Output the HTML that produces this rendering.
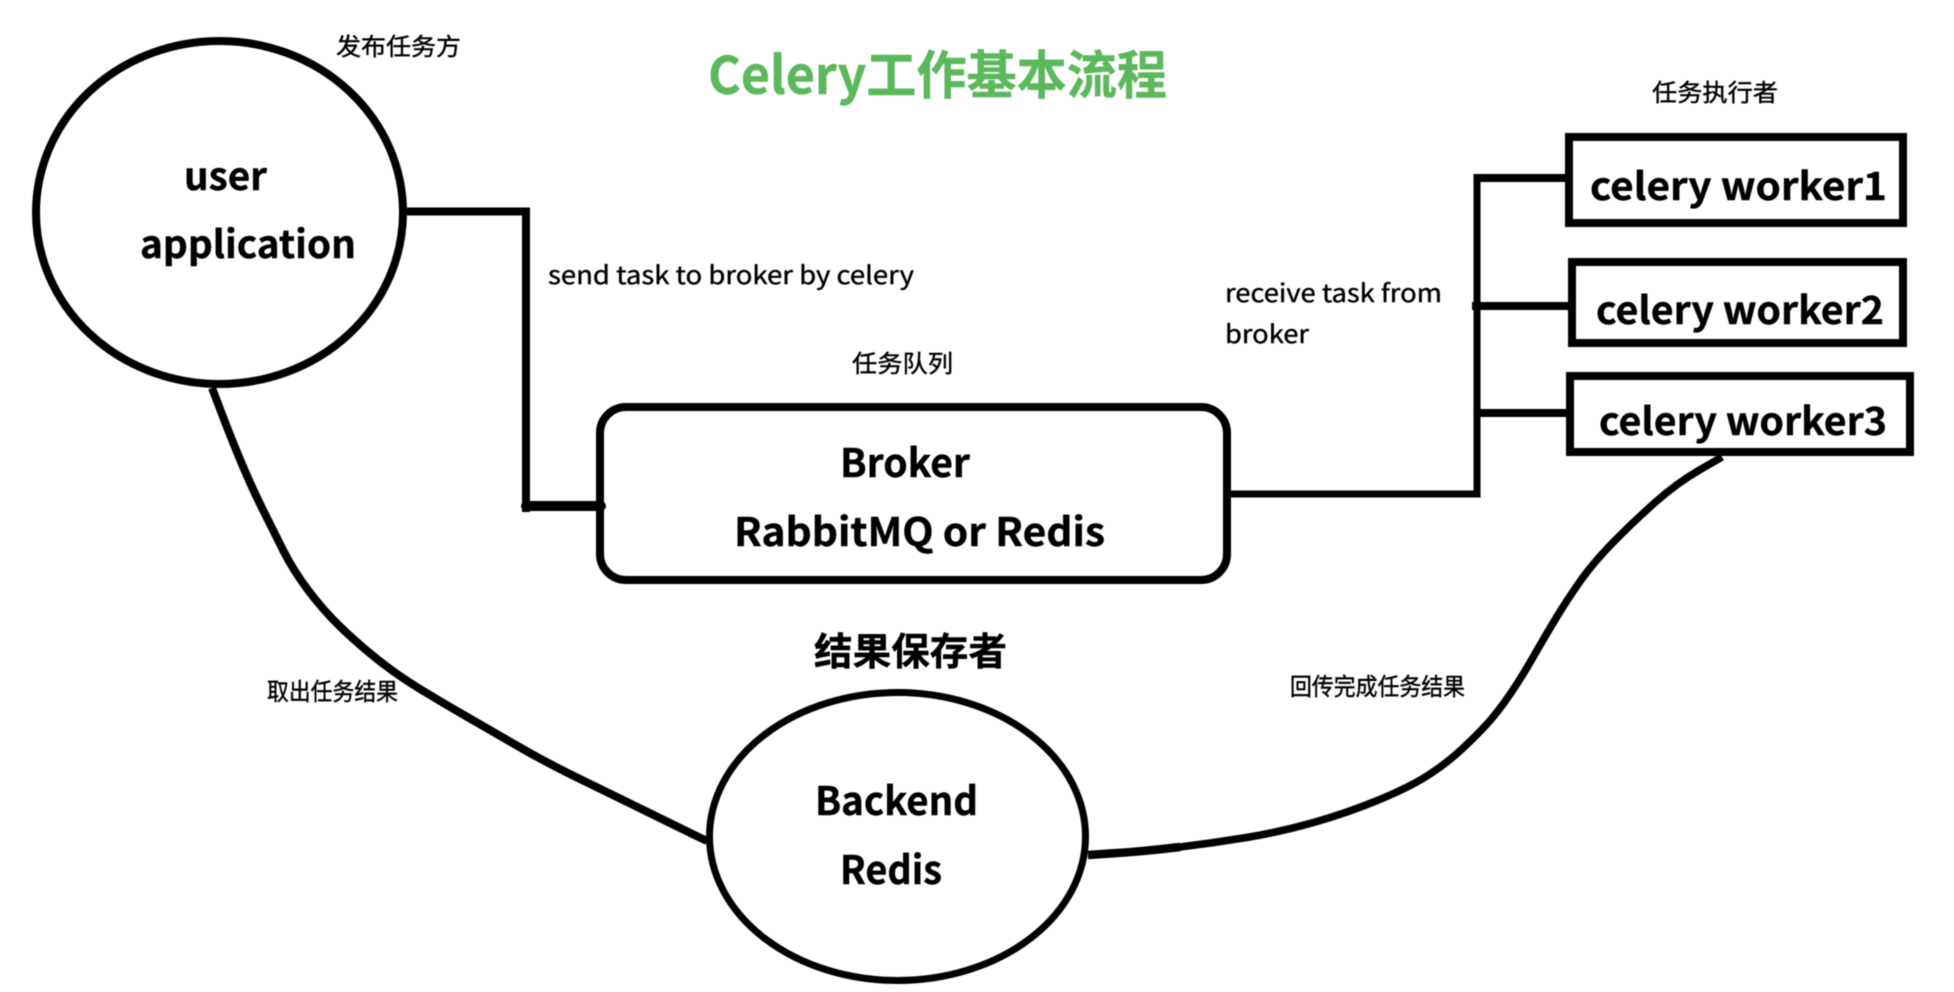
<!DOCTYPE html>
<html lang="zh-CN">
<head>
<meta charset="utf-8">
<title>Celery工作基本流程</title>
<style>
html,body{margin:0;padding:0;background:#fff;width:1954px;height:992px;overflow:hidden}
svg{display:block;filter:blur(.4px)}
text{font-family:"Noto Sans CJK SC","Liberation Sans",sans-serif;fill:#000}
.b{font-weight:700;stroke:#000;stroke-width:.4px}
.s{font-weight:400;stroke:#000;stroke-width:.4px}
</style>
</head>
<body>
<svg width="1954" height="992" viewBox="0 0 1954 992" xmlns="http://www.w3.org/2000/svg">
<rect width="1954" height="992" fill="#fff"/>
<g fill="none" stroke="#000" stroke-width="8">
  <ellipse cx="219.5" cy="212.5" rx="183.5" ry="171.5"/>
  <rect x="600" y="407" width="627" height="173" rx="26" ry="26"/>
  <ellipse cx="897.5" cy="836.5" rx="188" ry="144" stroke-width="7"/>
  <rect x="1569" y="137" width="334" height="86"/>
  <rect x="1572" y="262" width="331" height="81"/>
  <rect x="1570" y="376" width="340" height="76"/>
  <path d="M407 211.5H526V512"/>
  <path d="M526 506H601" stroke-width="10" stroke-linecap="round"/>
  <path d="M1231 494H1477V174" stroke-width="7"/>
  <path d="M1474 178H1565M1472 306H1568M1477 413H1566"/>
  <path stroke-width="8" d="M212 388L222.5 415.5Q233 443 243 466.5Q253 490 263 510Q273 530 283 550Q293 570 308 590Q323 610 340 626.5Q357 643 377 659Q397 675 420 689Q443 703 466.5 716.5Q490 730 518.5 746.5Q547 763 580 779Q613 795 646.5 811.5Q680 828 693.5 834.5L707 841"/>
  <path stroke-width="7.5" d="M1088 855L1117.5 853Q1147 851 1180 847Q1213 843 1246.5 837.5Q1280 832 1313.5 822.5Q1347 813 1378.5 800Q1410 787 1428.5 775Q1447 763 1462 749Q1477 735 1487 724Q1497 713 1508.5 696.5Q1520 680 1533.5 656.5Q1547 633 1557 616.5Q1567 600 1580 581.5Q1593 563 1613 542.5Q1633 522 1655 502.5Q1677 483 1699.5 470L1722 457"/>
  <path stroke-width="8.5" d="M1088 855L1117.5 853Q1147 851 1180 847"/>
</g>
<text x="708" y="94" font-size="52" class="b" style="fill:#5cb85c;stroke:#5cb85c" textLength="459" lengthAdjust="spacingAndGlyphs">Celery工作基本流程</text>
<text x="336" y="55" font-size="24" class="s" textLength="125" lengthAdjust="spacingAndGlyphs">发布任务方</text>
<text x="852" y="372" font-size="24" class="s" textLength="101" lengthAdjust="spacingAndGlyphs">任务队列</text>
<text x="1652" y="101" font-size="24" class="s" textLength="126" lengthAdjust="spacingAndGlyphs">任务执行者</text>
<text x="267" y="700" font-size="24" class="s" textLength="131" lengthAdjust="spacingAndGlyphs">取出任务结果</text>
<text x="1290" y="695" font-size="24" class="s" textLength="175" lengthAdjust="spacingAndGlyphs">回传完成任务结果</text>
<text x="814" y="665" font-size="38" class="b" textLength="193" lengthAdjust="spacingAndGlyphs">结果保存者</text>
<text x="548" y="284" font-size="25" class="s" textLength="366" lengthAdjust="spacingAndGlyphs">send task to broker by celery</text>
<text x="1225" y="302" font-size="25" class="s" textLength="217" lengthAdjust="spacingAndGlyphs">receive task from</text>
<text x="1225" y="343" font-size="25" class="s" textLength="84" lengthAdjust="spacingAndGlyphs">broker</text>
<text x="184" y="190" font-size="38" class="b" textLength="83" lengthAdjust="spacingAndGlyphs">user</text>
<text x="140" y="258" font-size="38" class="b" textLength="216" lengthAdjust="spacingAndGlyphs">application</text>
<text x="840" y="477" font-size="39" class="b" textLength="130" lengthAdjust="spacingAndGlyphs">Broker</text>
<text x="734" y="546" font-size="39" class="b" textLength="371" lengthAdjust="spacingAndGlyphs">RabbitMQ or Redis</text>
<text x="815" y="815" font-size="39" class="b" textLength="163" lengthAdjust="spacingAndGlyphs">Backend</text>
<text x="840" y="884" font-size="39" class="b" textLength="102" lengthAdjust="spacingAndGlyphs">Redis</text>
<text x="1590" y="200" font-size="38" class="b" textLength="297" lengthAdjust="spacingAndGlyphs">celery worker1</text>
<text x="1596" y="324" font-size="38" class="b" textLength="288" lengthAdjust="spacingAndGlyphs">celery worker2</text>
<text x="1599" y="435" font-size="38" class="b" textLength="288" lengthAdjust="spacingAndGlyphs">celery worker3</text>
</svg>
</body>
</html>
